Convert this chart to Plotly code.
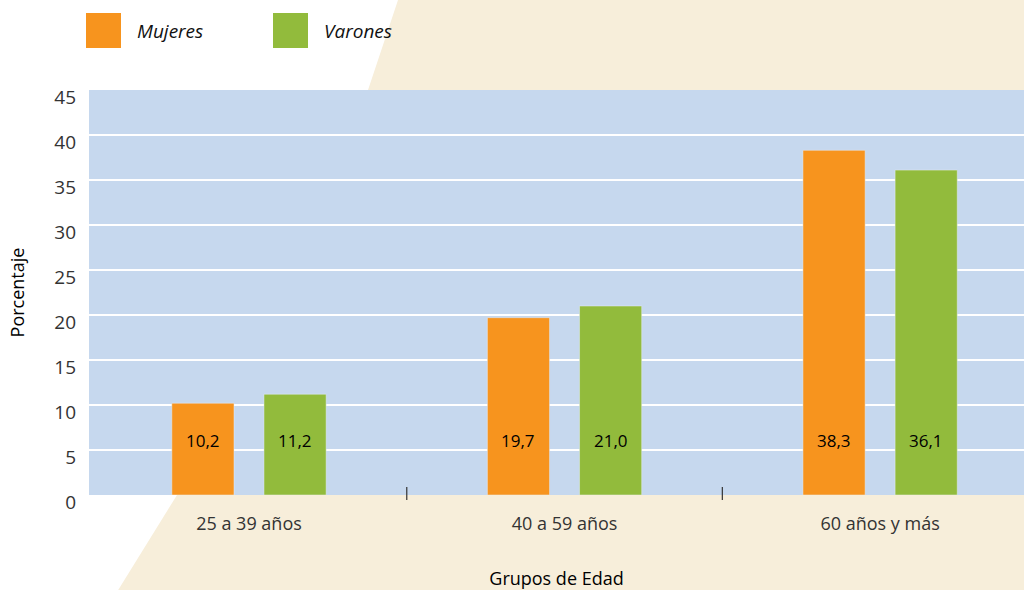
import plotly.graph_objects as go

categories = ["25 a 39 años", "40 a 59 años", "60 años y más"]
mujeres = [10.2, 19.7, 38.3]
varones = [11.2, 21.0, 36.1]
series_names = ["Mujeres", "Varones"]
y_ticks = [0, 5, 10, 15, 20, 25, 30, 35, 40, 45]

ORANGE = "#F7941E"
GREEN = "#92BB3C"
PLOT_BG = "#C6D8EE"
BEIGE = "#F7EEDA"
FONT = "Open Sans"

W, H = 1024, 590
ML, MR, MT, MB = 89, 0, 90, 95
PW, PH = W - ML - MR, H - MT - MB


def px(x):
    return (x - ML) / PW


def py(y):
    return (H - MB - y) / PH


idx = list(range(len(categories)))
bar_w = 0.197
half = 0.146

fig = go.Figure()
fig.add_trace(go.Bar(x=idx, y=mujeres, name=series_names[0], marker_color=ORANGE,
                     width=bar_w, offset=-half - bar_w / 2, showlegend=False,
                     hoverinfo="y"))
fig.add_trace(go.Bar(x=idx, y=varones, name=series_names[1], marker_color=GREEN,
                     width=bar_w, offset=half - bar_w / 2, showlegend=False,
                     hoverinfo="y"))

annotations = []
for i, (m, v) in enumerate(zip(mujeres, varones)):
    for val, off in ((m, -half), (v, half)):
        annotations.append(dict(x=i + off, y=6.1, xref="x", yref="y",
                                text=f"{val:.1f}".replace(".", ","),
                                showarrow=False,
                                font=dict(family=FONT, size=17, color="#000000",
                                          weight=500)))

# legend drawn manually
legend_items = [(series_names[0], ORANGE, 86), (series_names[1], GREEN, 273)]
shapes = []
# beige background polygon
path = (f"M {px(398)} {py(0)} L {px(1030)} {py(0)} L {px(1030)} {py(600)} "
        f"L {px(112)} {py(600)} L {px(177)} {py(495)} L {px(368)} {py(90)} Z")
shapes.append(dict(type="path", path=path, xref="paper", yref="paper",
                   fillcolor=BEIGE, line=dict(width=0), layer="below"))
# plot background drawn above the beige polygon
shapes.append(dict(type="rect", xref="paper", yref="paper", x0=0, x1=1, y0=0, y1=1,
                   fillcolor=PLOT_BG, line=dict(width=0), layer="below"))
for name, col, x0 in legend_items:
    shapes.append(dict(type="rect", xref="paper", yref="paper",
                       x0=px(x0), x1=px(x0 + 35), y0=py(48), y1=py(13),
                       fillcolor=col, line=dict(width=0)))
    annotations.append(dict(x=px(x0 + 49), y=py(31), xref="paper", yref="paper",
                            text=f"<i>{name}</i>", showarrow=False, xanchor="left",
                            yanchor="middle",
                            font=dict(family=FONT, size=19, color="#111111")))

# category boundary ticks
for i in idx[:-1]:
    shapes.append(dict(type="line", xref="x", yref="paper", x0=i + 0.5, x1=i + 0.5,
                       y0=py(500), y1=py(487), line=dict(color="#333333", width=1.2)))

fig.update_layout(
    width=W, height=H,
    margin=dict(l=ML, r=MR, t=MT, b=MB),
    paper_bgcolor="white",
    plot_bgcolor="rgba(0,0,0,0)",
    font=dict(family=FONT, size=18, color="#333333"),
    shapes=shapes,
    annotations=annotations,
    barmode="group",
    xaxis=dict(range=[-0.507, 2.456], tickvals=idx, ticktext=categories,
               showgrid=False, zeroline=False, ticks="", showline=False,
               ticklabelstandoff=16,
               tickfont=dict(size=18, color="#333333"),
               title=dict(text="Grupos de Edad", standoff=38,
                          font=dict(size=18, color="#000000"))),
    yaxis=dict(range=[0, 45], tickvals=y_ticks, showgrid=True, gridcolor="white",
               gridwidth=2, zeroline=False, showline=False, ticks="",
               ticklabelstandoff=12, ticklabelshift=7,
               tickfont=dict(size=19, color="#333333"),
               title=dict(text="Porcentaje", standoff=24,
                          font=dict(size=18, color="#000000"))),
)

fig.write_html("out.html", config={"displayModeBar": False},
               post_script="document.body.style.margin='0';")
